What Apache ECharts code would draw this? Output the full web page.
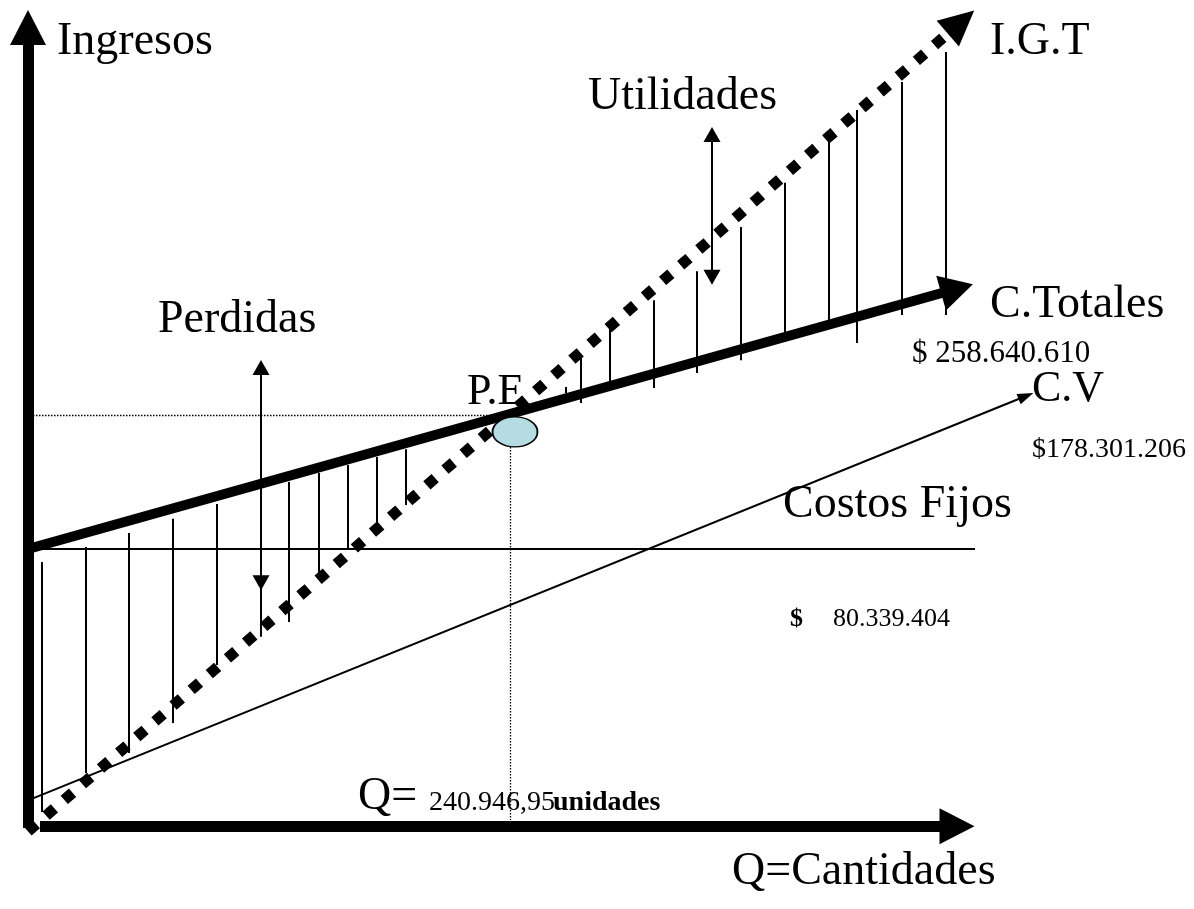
<!DOCTYPE html>
<html>
<head>
<meta charset="utf-8">
<title>Punto de equilibrio</title>
<script src="https://cdn.jsdelivr.net/npm/echarts@6/dist/echarts.min.js"></script>
<style>
  html, body { margin: 0; padding: 0; background: #fff; }
  #chart { width: 1194px; height: 909px; }
</style>
</head>
<body>
<div id="chart"></div>
<script>
// unidades del grafico: Q en miles de unidades, $ en millones
const costoFijo = 80339404;
const costoTotal = 258640610;
const costoVariable = 178301206;
const qEquilibrio = 240946.95;

const ingresosTotales = [[0, -1.5], [466.5, 233.1]];
const costosTotales = [[0, costoFijo / 1e6], [464.5, 155.8]];
const costosVariables = [[0, 7.5], [499, 124.7]];
const costosFijos = [[2.5, costoFijo / 1e6], [473.5, costoFijo / 1e6]];
const ejeCantidades = [[6, 0], [464.5, 0]];
const ejeIngresos = [[0, -0.5], [0, 231.5]];
const nivelEquilibrio = 119.0;
const marcaEquilibrio = [243.5, 114.3];

// rayas: [q, arriba, abajo]
const rayasPerdidas = [
  [7, 76.6, 4.1], [29, 80.9, 15.4], [50.5, 85.0, 21.2], [72.5, 89.1, 29.9],
  [94.5, 93.4, 46.7], [116.5, 97.5, 54.9], [130.5, 99.8, 59.2], [145.5, 102.4, 72.0],
  [160, 104.7, 80.1], [174.5, 107.0, 85.0], [189, 109.3, 93.1]
];
const rayasUtilidades = [
  [269, 127.3, 125.6], [276.5, 135.7, 122.7], [291, 144.4, 128.8], [313, 152.5, 127.0],
  [334.5, 160.9, 131.4], [356.5, 173.7, 135.1], [378.5, 186.5, 143.0], [400.5, 198.9, 146.7],
  [414.5, 207.6, 140.1], [437, 215.7, 148.2], [459, 224.4, 148.2]
];
const flechaPerdidas = [116.5, 133.0, 70.6];
const flechaUtilidades = [342, 200.5, 159.1];

const serif = '"Liberation Serif", "Times New Roman", serif';

function miles(n) {
  return String(Math.trunc(n)).replace(/\B(?=(\d{3})+(?!\d))/g, '.');
}
const qTexto = miles(qEquilibrio) + ',' + (qEquilibrio % 1).toFixed(2).slice(2);

function texto(str, q, v, size, bold) {
  return {
    value: [q, v],
    label: {formatter: str, fontSize: size, fontWeight: bold ? 'bold' : 'normal'}
  };
}

function segmento(a, b) {
  return {coords: [a, b]};
}

function lineas(data, lineStyle, symbol, symbolSize) {
  return {
    type: 'lines',
    coordinateSystem: 'cartesian2d',
    silent: true,
    symbol: symbol || ['none', 'none'],
    symbolSize: symbolSize || 0,
    lineStyle: Object.assign({color: '#000', opacity: 1, cap: 'butt'}, lineStyle),
    data: data
  };
}

const chart = echarts.init(document.getElementById('chart'));

chart.setOption({
  animation: false,
  backgroundColor: '#fff',
  grid: {left: 0, right: 0, top: 0, bottom: 0},
  xAxis: {type: 'value', min: -14, max: 583, show: false},
  yAxis: {type: 'value', min: -24, max: 239.5, show: false},
  series: [
    {
      type: 'scatter',
      silent: true,
      symbolSize: 0,
      itemStyle: {opacity: 1},
      label: {
        show: true, position: 'right', distance: 0,
        color: '#000', opacity: 1, fontFamily: serif
      },
      data: [
        texto('Ingresos', 14.5, 227.4, 46),
        texto('I.G.T', 481, 227.4, 46),
        texto('Utilidades', 280, 211.4, 46),
        texto('Perdidas', 65, 146.8, 46),
        texto('C.Totales', 481, 151.1, 46),
        texto('$ ' + miles(costoTotal), 442, 136.9, 31),
        texto('C.V', 502, 126.6, 44),
        texto('$' + miles(costoVariable), 502, 109.1, 28),
        texto('Costos Fijos', 377.5, 93.2, 46),
        texto('$', 381, 60.0, 26, true),
        texto(miles(costoFijo), 402.5, 60.0, 26),
        texto('P.E', 219.5, 125.7, 44),
        texto('Q=', 165, 8.5, 46),
        texto(qTexto, 200.5, 6.8, 28),
        texto('unidades', 262.5, 6.8, 28, true),
        texto('Q=Cantidades', 352, -13.2, 46)
      ]
    },
    {
      type: 'scatter',
      silent: true,
      symbol: 'path://M0,20 A30,20 0 1,1 60,20 A30,20 0 1,1 0,20 Z',
      symbolSize: [45, 30],
      itemStyle: {color: '#b5dce2', borderColor: '#000', borderWidth: 1.5, opacity: 1},
      data: [marcaEquilibrio]
    },
    // lineas de referencia del punto de equilibrio
    lineas([
      segmento([2.5, nivelEquilibrio], [232.5, nivelEquilibrio]),
      segmento([qEquilibrio / 1000, 109.9], [qEquilibrio / 1000, 1.8])
    ], {width: 1.3, type: [1.5, 1.5]}),
    // rayas de perdidas y utilidades
    lineas(rayasPerdidas.concat(rayasUtilidades).map(function (r) {
      return segmento([r[0], r[1]], [r[0], r[2]]);
    }), {width: 2}),
    lineas([
      segmento([flechaPerdidas[0], flechaPerdidas[1]], [flechaPerdidas[0], flechaPerdidas[2]]),
      segmento([flechaUtilidades[0], flechaUtilidades[1]], [flechaUtilidades[0], flechaUtilidades[2]])
    ], {width: 2}, ['triangle', 'triangle'], [[17, 15], [17, 15]]),
    lineas([segmento(costosFijos[0], costosFijos[1])], {width: 2}),
    lineas([segmento(costosVariables[0], costosVariables[1])], {width: 2},
      ['none', 'triangle'], [0, [11, 16]]),
    lineas([segmento(costosTotales[0], costosTotales[1])], {width: 10},
      ['none', 'triangle'], [0, [36, 33]]),
    lineas([segmento(ingresosTotales[0], ingresosTotales[1])], {width: 11, type: [11, 13]},
      ['none', 'triangle'], [0, [34, 35]]),
    // ejes
    lineas([
      segmento(ejeCantidades[0], ejeCantidades[1]),
      segmento(ejeIngresos[0], ejeIngresos[1])
    ], {width: 11}, ['none', 'triangle'], [0, [36, 35]])
  ]
});
</script>
</body>
</html>
